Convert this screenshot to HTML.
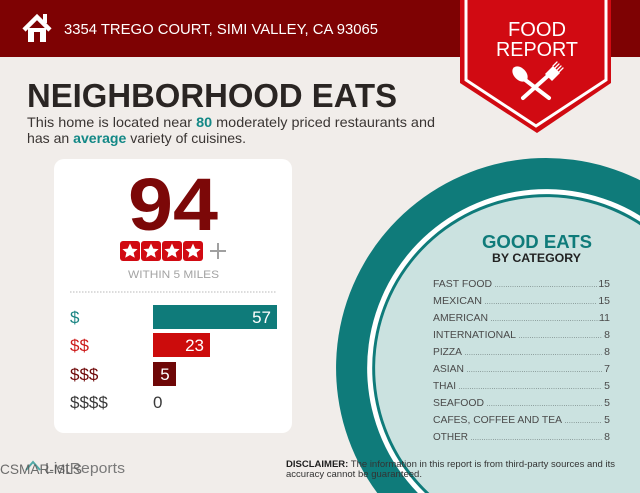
<!DOCTYPE html>
<html><head><meta charset="utf-8"><style>
html,body{margin:0;padding:0;background:#f1edea;width:640px;height:493px;overflow:hidden;}
svg{display:block;}
text{font-family:"Liberation Sans",sans-serif;}
</style></head><body>
<svg width="640" height="493" viewBox="0 0 640 493" xmlns="http://www.w3.org/2000/svg">
<rect x="0" y="0" width="640" height="493" fill="#f1edea"/>
<!-- header -->
<rect x="0" y="0" width="640" height="57" fill="#7e0203"/>
<!-- house icon -->
<polyline points="24,30 37,17 50,30" fill="none" stroke="#fff" stroke-width="4.5" stroke-linejoin="miter"/>
<rect x="43" y="14" width="4" height="9" fill="#fff"/>
<rect x="28" y="28" width="18" height="14" fill="#fff"/>
<rect x="34" y="32" width="6" height="10" fill="#7e0203"/>
<text x="64" y="34" font-size="14.5" fill="#fff" textLength="314" lengthAdjust="spacingAndGlyphs">3354 TREGO COURT, SIMI VALLEY, CA 93065</text>
<!-- badge -->
<path d="M460,0 L611,0 L611,83 L537,133 L460,83 Z" fill="#d10a12"/>
<path d="M466,0 L466,80 L536,126 L606,80 L606,0" fill="none" stroke="#fff" stroke-width="3"/>
<text x="537" y="36" font-size="20" fill="#fff" text-anchor="middle" textLength="58" lengthAdjust="spacingAndGlyphs">FOOD</text>
<text x="537" y="56" font-size="20" fill="#fff" text-anchor="middle" textLength="82" lengthAdjust="spacingAndGlyphs">REPORT</text>
<!-- fork & spoon -->
<g stroke="#fff" stroke-linecap="round" fill="#fff">
<line x1="524" y1="79" x2="549" y2="98" stroke-width="4"/>
<ellipse cx="520" cy="74" rx="6" ry="9" transform="rotate(-45 520 74)" stroke="none"/>
<line x1="550" y1="74" x2="523" y2="98" stroke-width="4"/>
<path d="M545,74 L553,66 L560,73 L552,81 Z" stroke="none"/>
<line x1="553" y1="66" x2="557" y2="62" stroke-width="1.3"/>
<line x1="555" y1="68" x2="559" y2="64" stroke-width="1.3"/>
<line x1="557" y1="70" x2="561" y2="66" stroke-width="1.3"/>
<line x1="559" y1="72" x2="563" y2="68" stroke-width="1.3"/>
</g>
<!-- title -->
<text x="27" y="107" font-size="33" font-weight="bold" fill="#2a2523" textLength="370" lengthAdjust="spacingAndGlyphs">NEIGHBORHOOD EATS</text>
<text x="27" y="127" font-size="14" fill="#3a3533" textLength="408" lengthAdjust="spacingAndGlyphs">This home is located near <tspan font-weight="bold" fill="#138886">80</tspan> moderately priced restaurants and</text>
<text x="27" y="143" font-size="14" fill="#3a3533" textLength="219" lengthAdjust="spacingAndGlyphs">has an <tspan font-weight="bold" fill="#138886">average</tspan> variety of cuisines.</text>
<!-- circle (clipped to frame) -->
<path d="M640,180.2 A210,210 0 0 0 377.3,493 L640,493 Z" fill="#0f7b7a"/>
<path d="M640,215.7 A179,179 0 0 0 417.9,493 L640,493 Z" fill="#ffffff"/>
<path d="M640,221.6 A174,174 0 0 0 425.0,493 L640,493 Z" fill="#0f7b7a"/>
<path d="M640,225.2 A171,171 0 0 0 429.3,493 L640,493 Z" fill="#cbe2e0"/>
<text x="482" y="248" font-size="18" font-weight="bold" fill="#0f7b7a" textLength="110" lengthAdjust="spacingAndGlyphs">GOOD EATS</text>
<text x="492" y="262" font-size="12" font-weight="bold" fill="#222" textLength="89" lengthAdjust="spacingAndGlyphs">BY CATEGORY</text>
<g font-size="10.5" fill="#4a4a4a">
<text x="433" y="287" textLength="59" lengthAdjust="spacingAndGlyphs">FAST FOOD</text>
<text x="433" y="304" textLength="49" lengthAdjust="spacingAndGlyphs">MEXICAN</text>
<text x="433" y="321" textLength="55" lengthAdjust="spacingAndGlyphs">AMERICAN</text>
<text x="433" y="338" textLength="83" lengthAdjust="spacingAndGlyphs">INTERNATIONAL</text>
<text x="433" y="355" textLength="29" lengthAdjust="spacingAndGlyphs">PIZZA</text>
<text x="433" y="372" textLength="31" lengthAdjust="spacingAndGlyphs">ASIAN</text>
<text x="433" y="389" textLength="23" lengthAdjust="spacingAndGlyphs">THAI</text>
<text x="433" y="406" textLength="51" lengthAdjust="spacingAndGlyphs">SEAFOOD</text>
<text x="433" y="423" textLength="129" lengthAdjust="spacingAndGlyphs">CAFES, COFFEE AND TEA</text>
<text x="433" y="440" textLength="35" lengthAdjust="spacingAndGlyphs">OTHER</text>
<g text-anchor="end">
<text x="610" y="287">15</text><text x="610" y="304">15</text><text x="610" y="321">11</text>
<text x="610" y="338">8</text><text x="610" y="355">8</text><text x="610" y="372">7</text>
<text x="610" y="389">5</text><text x="610" y="406">5</text><text x="610" y="423">5</text>
<text x="610" y="440">8</text>
</g>
</g>
<g stroke="#6a7776" stroke-width="0.8" stroke-dasharray="0.8 1.4">
<line x1="495" y1="286.5" x2="597" y2="286.5"/>
<line x1="485" y1="303.5" x2="597" y2="303.5"/>
<line x1="491" y1="320.5" x2="601" y2="320.5"/>
<line x1="519" y1="337.5" x2="602" y2="337.5"/>
<line x1="465" y1="354.5" x2="602" y2="354.5"/>
<line x1="467" y1="371.5" x2="602" y2="371.5"/>
<line x1="459" y1="388.5" x2="602" y2="388.5"/>
<line x1="487" y1="405.5" x2="602" y2="405.5"/>
<line x1="565" y1="422.5" x2="602" y2="422.5"/>
<line x1="471" y1="439.5" x2="602" y2="439.5"/>
</g>
<!-- card -->
<rect x="54" y="159" width="238" height="274" rx="10" fill="#ffffff"/>
<text x="128" y="230" font-size="74" font-weight="bold" fill="#7c0808" textLength="90" lengthAdjust="spacingAndGlyphs">94</text>
<g>
<rect x="120" y="241" width="20" height="20" rx="3" fill="#d10a12"/>
<rect x="141" y="241" width="20" height="20" rx="3" fill="#d10a12"/>
<rect x="162" y="241" width="20" height="20" rx="3" fill="#d10a12"/>
<rect x="183" y="241" width="20" height="20" rx="3" fill="#d10a12"/>
<g fill="#fff">
<polygon points="130,243.5 132.3,248.6 137.6,249.1 133.6,252.6 134.8,257.8 130,255 125.2,257.8 126.4,252.6 122.4,249.1 127.7,248.6"/>
<polygon points="151,243.5 153.3,248.6 158.6,249.1 154.6,252.6 155.8,257.8 151,255 146.2,257.8 147.4,252.6 143.4,249.1 148.7,248.6"/>
<polygon points="172,243.5 174.3,248.6 179.6,249.1 175.6,252.6 176.8,257.8 172,255 167.2,257.8 168.4,252.6 164.4,249.1 169.7,248.6"/>
<polygon points="193,243.5 195.3,248.6 200.6,249.1 196.6,252.6 197.8,257.8 193,255 188.2,257.8 189.4,252.6 185.4,249.1 190.7,248.6"/>
</g>
</g>
<line x1="210" y1="251" x2="226" y2="251" stroke="#a0a0a0" stroke-width="2"/>
<line x1="218" y1="243" x2="218" y2="259" stroke="#a0a0a0" stroke-width="2"/>
<text x="128" y="278" font-size="11" fill="#a3a3a3" textLength="91" lengthAdjust="spacingAndGlyphs">WITHIN 5 MILES</text>
<line x1="70" y1="292" x2="277" y2="292" stroke="#b8b8b8" stroke-width="1" stroke-dasharray="1.5 1.5"/>
<!-- bars -->
<rect x="153" y="305" width="124" height="24" fill="#0f7b7a"/>
<rect x="153" y="333" width="57" height="24" fill="#cc0c0c"/>
<rect x="153" y="362" width="23" height="24" fill="#6e0707"/>
<g font-size="17">
<text x="70" y="323" fill="#1a8583">$</text>
<text x="70" y="351" fill="#cc1a1a">$$</text>
<text x="70" y="380" fill="#6e0707">$$$</text>
<text x="70" y="408" fill="#3a3a3a">$$$$</text>
<text x="271" y="323" fill="#fff" text-anchor="end">57</text>
<text x="204" y="351" fill="#fff" text-anchor="end">23</text>
<text x="165" y="380" fill="#fff" text-anchor="middle">5</text>
<text x="153" y="408" fill="#3a3a3a">0</text>
</g>
<!-- disclaimer -->
<text x="286" y="467" font-size="9.5" fill="#333" textLength="329" lengthAdjust="spacingAndGlyphs"><tspan font-weight="bold" fill="#1f1f1f">DISCLAIMER:</tspan> The information in this report is from third-party sources and its</text>
<text x="286" y="477" font-size="9.5" fill="#333" textLength="136" lengthAdjust="spacingAndGlyphs">accuracy cannot be guaranteed.</text>
<!-- footer logo -->
<polyline points="26,470 33,462 40,470" fill="none" stroke="#4fa9a6" stroke-width="2"/>
<text x="45" y="473" font-size="15" fill="#7a7a7a" textLength="80" lengthAdjust="spacingAndGlyphs">ListReports</text>
<text x="0" y="474" font-size="14" fill="#555" fill-opacity="0.85" textLength="82" lengthAdjust="spacingAndGlyphs">CSMAR-MLS</text>
</svg>
</body></html>
